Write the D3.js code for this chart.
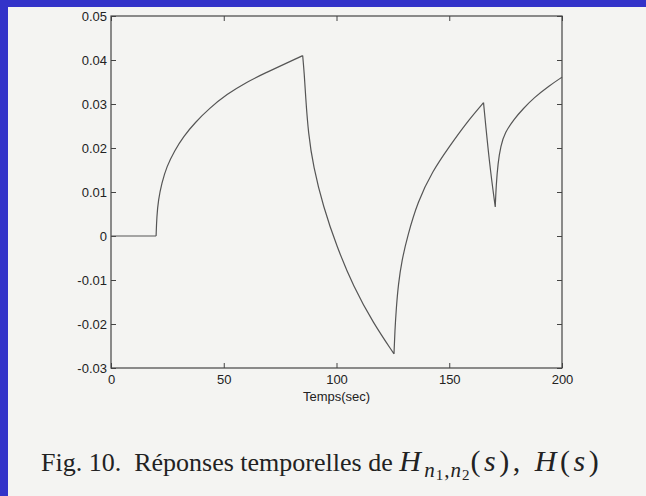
<!DOCTYPE html>
<html>
<head>
<meta charset="utf-8">
<script src="https://cdn.jsdelivr.net/npm/d3@7"></script>
<style>
  html, body { margin: 0; padding: 0; background: #f4f4f2; }
  svg { display: block; }
  .tick text { font-family: Arial, "Liberation Sans", sans-serif; font-size: 13px; fill: #222; }
  .caption { font-family: "Liberation Serif", "Times New Roman", serif; fill: #222; white-space: pre; }
</style>
</head>
<body>
<div id="chart"></div>
<script>
var debug = false;

// PAM: values (time in sec, response)
var timeValues = [
  0, 20,
  20.3, 21.0, 22.5, 24.7, 28.2, 32.1, 37.3, 43.6, 51.3, 60.2, 69.0, 77.9, 85.0,
  85.7, 86.3, 87.5, 89.7, 94.1, 100.1, 107.5, 116.3, 125.5,
  125.9, 126.5, 127.4, 129.0, 131.5, 136.0, 142.6, 150.0, 157.4, 165.2,
  167.8, 170.4,
  170.8, 171.6, 172.8, 174.7, 178.6, 182.9, 187.5, 194.2, 200
];
var responseValues = [
  0, 0,
  0.0044, 0.0082, 0.0120, 0.0158, 0.0194, 0.0226, 0.0258, 0.0290, 0.0322, 0.0350, 0.0372, 0.0393, 0.0410,
  0.0370, 0.0317, 0.0233, 0.0158, 0.0067, -0.0024, -0.0115, -0.0198, -0.0268,
  -0.0215, -0.0165, -0.0110, -0.0055, 0.0000, 0.0078, 0.0148, 0.0203, 0.0256, 0.0303,
  0.0165, 0.0066,
  0.0115, 0.0165, 0.0205, 0.0235, 0.0265, 0.0290, 0.0314, 0.0341, 0.0361
];
// indices where the response has a corner (switching instants)
var cornerIndex = [1, 14, 23, 33, 35];

var xTickValues = [0, 50, 100, 150, 200];
var yTickValues = [0.05, 0.04, 0.03, 0.02, 0.01, 0, -0.01, -0.02, -0.03];
var yTickLabels = ["0.05", "0.04", "0.03", "0.02", "0.01", "0", "-0.01", "-0.02", "-0.03"];
var xAxisTitle = "Temps(sec)";

var width = 646, height = 496;
var plot = { left: 111, right: 562, top: 16, bottom: 368 };

var svg = d3.select("#chart").append("svg")
  .attr("width", width)
  .attr("height", height);

svg.append("rect").attr("width", width).attr("height", height).attr("fill", "#f4f4f2");

// PAM: blue slide frame (left and top only)
svg.append("rect").attr("x", 0).attr("y", 0).attr("width", 8).attr("height", height).attr("fill", "#3333c9");
svg.append("rect").attr("x", 0).attr("y", 0).attr("width", width).attr("height", 7).attr("fill", "#3333c9");

var x = d3.scaleLinear().domain([0, 200]).range([plot.left, plot.right]);
var y = d3.scaleLinear().domain([-0.03, 0.05]).range([plot.bottom, plot.top]);

function styleAxis(g) {
  g.select(".domain").remove();
  g.selectAll(".tick line").attr("stroke", "#444").attr("stroke-width", 1);
}

// left axis with labels, ticks pointing inward
svg.append("g")
  .attr("transform", "translate(" + plot.left + ",0)")
  .call(d3.axisLeft(y).tickValues(yTickValues)
    .tickFormat(function(d, i) { return yTickLabels[i]; })
    .tickSizeInner(-5).tickSizeOuter(0).tickPadding(4))
  .call(styleAxis);

svg.append("g")
  .attr("transform", "translate(" + plot.right + ",0)")
  .call(d3.axisRight(y).tickValues(yTickValues).tickFormat("")
    .tickSizeInner(-5).tickSizeOuter(0))
  .call(styleAxis);

svg.append("g")
  .attr("transform", "translate(0," + plot.bottom + ")")
  .call(d3.axisBottom(x).tickValues(xTickValues).tickFormat(d3.format("d"))
    .tickSizeInner(-5).tickSizeOuter(0).tickPadding(7))
  .call(styleAxis);

svg.append("g")
  .attr("transform", "translate(0," + plot.top + ")")
  .call(d3.axisTop(x).tickValues(xTickValues).tickFormat("")
    .tickSizeInner(-5).tickSizeOuter(0))
  .call(styleAxis);

// frame
svg.append("rect")
  .attr("x", plot.left).attr("y", plot.top)
  .attr("width", plot.right - plot.left).attr("height", plot.bottom - plot.top)
  .attr("fill", "none").attr("stroke", "#444").attr("stroke-width", 1.2);

svg.append("text")
  .attr("x", (plot.left + plot.right) / 2)
  .attr("y", 401)
  .attr("text-anchor", "middle")
  .style("font-family", "Arial, 'Liberation Sans', sans-serif")
  .style("font-size", "13px")
  .attr("fill", "#222")
  .text(xAxisTitle);

// PAM: split the response at the switching instants, smooth each piece separately
var points = timeValues.map(function(t, i) { return [t, responseValues[i]]; });
var segments = [];
var start = 0;
cornerIndex.concat([points.length - 1]).forEach(function(end) {
  segments.push(points.slice(start, end + 1));
  start = end;
});

var line = d3.line()
  .x(function(d) { return x(d[0]); })
  .y(function(d) { return y(d[1]); })
  .curve(d3.curveBasis);

svg.append("path")
  .attr("d", segments.map(function(s) { return line(s); }).join(""))
  .attr("fill", "none")
  .attr("stroke", "#555")
  .attr("stroke-width", 1.2)
  .attr("stroke-linejoin", "miter");

if (debug) { console.log(segments); }

// caption, with the math parts in italic and a bit larger
var captionParts = [
  { t: "Fig. 10.  Réponses temporelles de " },
  { t: "H", it: true, size: 30, ls: 3.5 },
  { t: "n", it: true, size: 21, dy: 6, ls: 1 },
  { t: "1", size: 15, dy: 3, ls: 1 },
  { t: ",", size: 21, dy: -3, ls: 1 },
  { t: "n", it: true, size: 21, ls: 1 },
  { t: "2", size: 15, dy: 3, ls: 1 },
  { t: "(", size: 30, dy: -9, ls: 3.5 },
  { t: "s", it: true, size: 30, ls: 3.5 },
  { t: "), ", size: 30, ls: 3.5 },
  { t: "H", it: true, size: 30, ls: 3.5 },
  { t: "(", size: 30, ls: 3.5 },
  { t: "s", it: true, size: 30, ls: 3.5 },
  { t: ")", size: 30 }
];

var caption = svg.append("text")
  .attr("class", "caption")
  .attr("x", 41)
  .attr("y", 471)
  .style("font-size", "26px");

captionParts.forEach(function(p) {
  caption.append("tspan")
    .attr("dy", p.dy || 0)
    .style("font-style", p.it ? "italic" : "normal")
    .style("font-size", (p.size || 26) + "px")
    .style("letter-spacing", (p.ls || 0) + "px")
    .text(p.t);
});
</script>
</body>
</html>
